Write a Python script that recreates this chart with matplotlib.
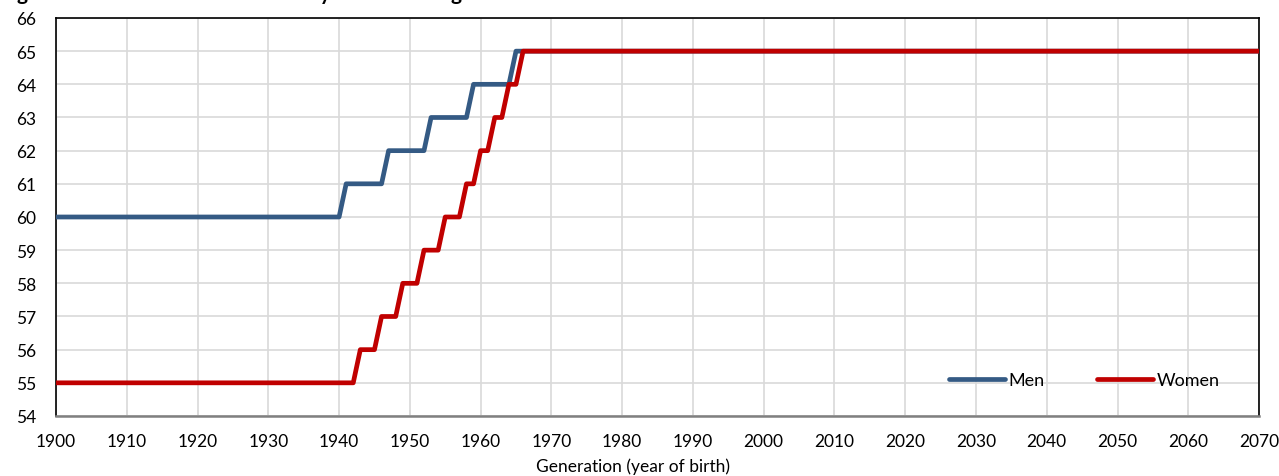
import numpy as np
import matplotlib.pyplot as plt

# Statutory retirement age by year of birth (piecewise)
men_years = [1900, 1940, 1941, 1946, 1947, 1952, 1953, 1958, 1959, 1964, 1965, 2070]
men_age = [60, 60, 61, 61, 62, 62, 63, 63, 64, 64, 65, 65]

women_years = [1900, 1942, 1943, 1945, 1946, 1948, 1949, 1951, 1952, 1954, 1955,
               1957, 1958, 1959, 1960, 1961, 1962, 1963, 1964, 1965, 1966, 2070]
women_age = [55, 55, 56, 56, 57, 57, 58, 58, 59, 59, 60,
             60, 61, 61, 62, 62, 63, 63, 64, 64, 65, 65]

x_ticks = list(range(1900, 2071, 10))
y_ticks = list(range(54, 67))

MEN_COLOR = '#345A84'
WOMEN_COLOR = '#C00000'
GRID_COLOR = '#D9D9D9'

plt.rcParams['font.family'] = ['Lato', 'DejaVu Sans']

fig = plt.figure(figsize=(12.79, 4.77), dpi=100)
ax = fig.add_axes([0.0438, 0.1258, 0.9406, 0.8344])

ax.plot(men_years, men_age, color=MEN_COLOR, linewidth=3.4, label='Men',
        solid_joinstyle='round', solid_capstyle='butt', zorder=3)
ax.plot(women_years, women_age, color=WOMEN_COLOR, linewidth=3.4, label='Women',
        solid_joinstyle='round', solid_capstyle='butt', zorder=4)

ax.set_xlim(1900, 2070)
ax.set_ylim(54, 66)
ax.set_xticks(x_ticks)
ax.set_yticks(y_ticks)
ax.grid(True, color=GRID_COLOR, linewidth=1.2)
ax.set_axisbelow(True)

for side in ['left', 'top', 'right']:
    ax.spines[side].set_color('black')
    ax.spines[side].set_linewidth(1.2)
ax.spines['bottom'].set_color('#808080')
ax.spines['bottom'].set_linewidth(1.8)

ax.tick_params(axis='x', direction='in', length=4, color=GRID_COLOR, width=1.2,
               labelsize=12.5, pad=12)
ax.tick_params(axis='y', length=0, labelsize=12.5, pad=14)

ax.set_xlabel('Generation (year of birth)', fontsize=12.5, labelpad=3)
ax.xaxis.set_label_coords(0.48, -0.105)

leg = ax.legend(loc='center', bbox_to_anchor=(0.855, 0.09), ncol=2, frameon=False,
                fontsize=13, handlelength=3.1, handletextpad=0.2, columnspacing=2.9)
for line in leg.get_lines():
    line.set_solid_capstyle('round')

# title mostly clipped at the top of the image, as in the source
fig.text(0.0, 1.0, 'Figure 1: The evolution of statutory retirement age in the model',
         fontsize=15, fontweight='bold', ha='left', va='baseline')

fig.savefig('out.png', dpi=100)
